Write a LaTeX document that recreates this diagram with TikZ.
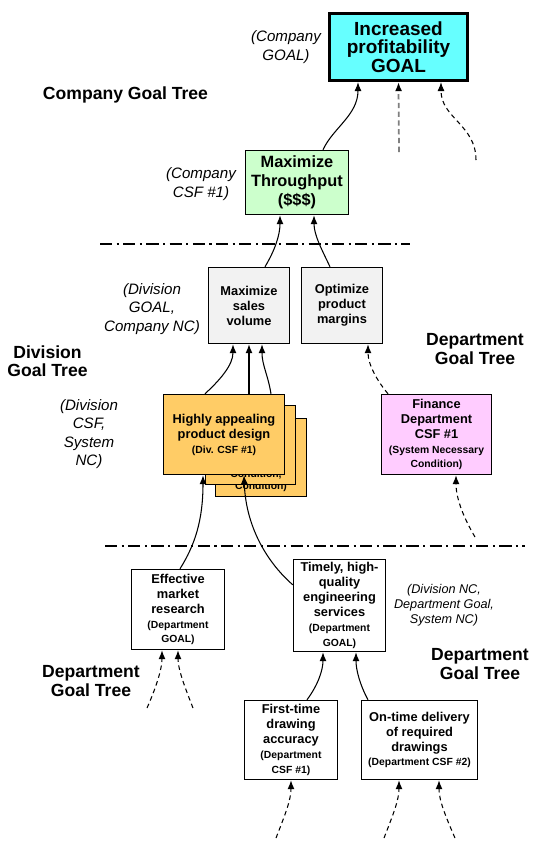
\documentclass[tikz,border=0pt]{standalone}
\usepackage{fontspec}
\setmainfont{Liberation Sans}
\usetikzlibrary{arrows.meta,calc}
\definecolor{goalcyan}{HTML}{66FFFF}
\definecolor{csfgreen}{HTML}{CCFFCC}
\definecolor{ncgray}{HTML}{F2F2F2}
\definecolor{divorange}{HTML}{FFCC66}
\definecolor{finpink}{HTML}{FFCCFF}
\newcommand{\smalltag}{\fontsize{5.9}{7.2}\selectfont}

\begin{document}
\begin{tikzpicture}[
    x=0.02cm, y=-0.02cm,
    box/.style={rectangle, draw, line width=0.85pt, align=center, inner sep=1pt, font=\bfseries\fontsize{7.3}{8.5}\selectfont},
    note/.style={align=center, inner sep=0pt, font=\itshape\fontsize{8.6}{10.5}\selectfont},
    treetitle/.style={align=center, inner sep=0pt, font=\bfseries\fontsize{10}{10.4}\selectfont},
    tag/.style={inner sep=0pt, font=\bfseries\smalltag},
    arrow/.style={-{Latex[length=1.8mm,width=1.4mm]}, line width=0.6pt},
    dasharrow/.style={arrow, dash pattern=on 2.6pt off 2pt},
    divider/.style={line width=0.85pt, dash pattern=on 7pt off 2.5pt on 1.2pt off 2.5pt}
]
    \useasboundingbox (0,0) rectangle (547,850);
    % Company level
    \node[box, fill=goalcyan, line width=1.8pt, minimum width=2.76cm, minimum height=1.34cm,
          font=\bfseries\fontsize{10.8}{10.6}\selectfont] (goal) at (398.5,47) {Increased\\profitability\\GOAL};
    \node[box, fill=csfgreen, minimum width=2.06cm, minimum height=1.28cm,
          font=\bfseries\fontsize{9.3}{10.8}\selectfont] (tput) at (297,182.5) {Maximize\\Throughput\\(\$\$\$)};
    \node[note] (goalnote) at (286,47) {(Company\\GOAL)};
    \node[note] (tputnote) at (201,184) {(Company\\CSF \#1)};
    \node[treetitle] (cotree) at (125.5,95) {Company Goal Tree};
    % Division level
    \node[box, fill=ncgray, minimum width=1.62cm, minimum height=1.52cm] (sales) at (249,305.5) {Maximize\\sales\\volume};
    \node[box, fill=ncgray, minimum width=1.62cm, minimum height=1.52cm] (margins) at (342,305.5) {Optimize\\product\\margins};
    \node[box, fill=divorange, minimum width=1.82cm, minimum height=1.56cm] (design3) at (261,457.5) {};
    \node[tag] (design3tag) at (261,487) {Condition)};
    \node[box, fill=divorange, minimum width=1.8cm, minimum height=1.58cm] (design2) at (250.5,445) {};
    \node[tag] (design2tag) at (256,475) {Condition,};
    \node[box, fill=divorange, minimum width=2.42cm, minimum height=1.6cm] (design) at (224,434.5) {Highly appealing\\product design\\\smalltag(Div. CSF \#1)};
    \node[box, fill=finpink, minimum width=2.2cm, minimum height=1.6cm] (finance) at (436.5,434.5) {Finance\\Department\\CSF \#1\\\smalltag(System Necessary\\\smalltag Condition)};
    \node[note] (salesnote) at (152,309) {(Division\\GOAL,\\Company NC)};
    \node[note] (designnote) at (89,434) {(Division\\CSF,\\System\\NC)};
    \node[treetitle] (divtree) at (47.5,361) {Division\\Goal Tree};
    \node[treetitle] (fintree) at (475,349) {Department\\Goal Tree};
    % Department level
    \node[box, fill=white, minimum width=1.86cm, minimum height=1.6cm] (market) at (178,609.5) {Effective\\market\\research\\\smalltag(Department\\\smalltag GOAL)};
    \node[box, fill=white, minimum width=1.84cm, minimum height=1.84cm] (eng) at (339.5,605.5) {Timely, high-\\quality\\engineering\\services\\\smalltag(Department\\\smalltag GOAL)};
    \node[box, fill=white, minimum width=1.86cm, minimum height=1.58cm] (accuracy) at (291,740) {First-time\\drawing\\accuracy\\\smalltag(Department\\\smalltag CSF \#1)};
    \node[box, fill=white, minimum width=2.32cm, minimum height=1.58cm] (delivery) at (419.5,740) {On-time delivery\\of required\\drawings\\\smalltag(Department CSF \#2)};
    \node[note, font=\itshape\fontsize{7.2}{8.5}\selectfont] (engnote) at (444,605) {(Division NC,\\Department Goal,\\System NC)};
    \node[treetitle] (engtree) at (480,664) {Department\\Goal Tree};
    \node[treetitle] (markettree) at (91,681) {Department\\Goal Tree};
    % Dividers
    \draw[divider] (100,244) -- (410,244);
    \draw[divider] (105,546) -- (525,546);
    % Free ends
    \coordinate (g2) at (399,152);
    \coordinate (g3) at (476,160);
    \coordinate (f1) at (475,537);
    \coordinate (m1) at (147,708);
    \coordinate (m2) at (193,708);
    \coordinate (a1) at (276,838);
    \coordinate (d1) at (384,838);
    \coordinate (d2) at (455,838);
    % Arrows
    \draw[arrow] ($(tput.north)+(26,0)$) .. controls (333,128) and (358,115) .. ($(goal.south)+(-40.5,0)$);
    \draw[-{Latex[length=1.8mm,width=1.4mm,color=black]}, gray, line width=1pt, dash pattern=on 3pt off 2pt] (g2) -- (goal.south);
    \draw[dasharrow] (g3) .. controls (476,125) and (441,118) .. ($(goal.south)+(42.5,0)$);
    \draw[arrow] ($(sales.north)+(16,0)$) .. controls (275,250) and (280,235) .. ($(tput.south)+(-17,0)$);
    \draw[arrow] ($(margins.north)+(-12,0)$) .. controls (322,250) and (314,235) .. ($(tput.south)+(17,0)$);
    \draw[arrow] ($(design.north)+(-19,0)$) .. controls (220,380) and (233,365) .. ($(sales.south)+(-16,0)$);
    \draw[arrow] ($(design.north)+(25,0)$) -- (sales.south);
    \draw[arrow] ($(design.north)+(47,0)$) .. controls (268,375) and (262,365) .. ($(sales.south)+(13,0)$);
    \draw[dasharrow] ($(finance.north)+(-48.5,0)$) .. controls (378,382) and (368,365) .. ($(margins.south)+(26,0)$);
    \draw[dasharrow] (f1) .. controls (465,520) and (456,500) .. ($(finance.south)+(19.5,0)$);
    \draw[arrow] ($(market.north)+(2,0)$) .. controls (195,545) and (203,520) .. ($(design.south)+(-21,0)$);
    \draw[arrow] ($(eng.north west)+(0,26)$) .. controls (270,565) and (246,530) .. ($(design.south)+(20,0)$);
    \draw[dasharrow] (m1) .. controls (155,690) and (162,670) .. ($(market.south)+(-16,0)$);
    \draw[dasharrow] (m2) .. controls (186,690) and (178,670) .. (market.south);
    \draw[arrow] ($(accuracy.north)+(16,0)$) .. controls (318,685) and (323,670) .. ($(eng.south)+(-16.5,0)$);
    \draw[arrow] ($(delivery.north)+(-51.5,0)$) .. controls (360,685) and (356,670) .. ($(eng.south)+(16.5,0)$);
    \draw[dasharrow] (a1) .. controls (285,815) and (291,800) .. (accuracy.south);
    \draw[dasharrow] (d1) .. controls (393,815) and (399,800) .. ($(delivery.south)+(-20.5,0)$);
    \draw[dasharrow] (d2) .. controls (445,815) and (439,800) .. ($(delivery.south)+(19.5,0)$);
\end{tikzpicture}
\end{document}
